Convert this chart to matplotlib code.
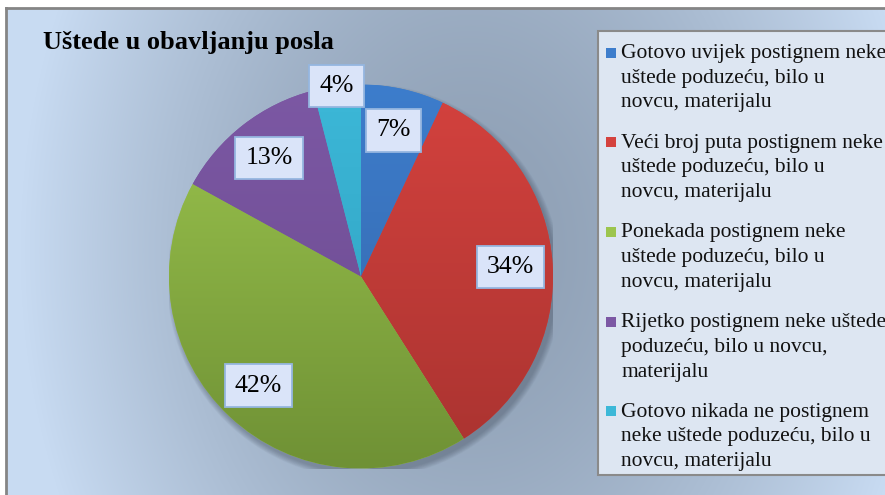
import numpy as np
import matplotlib.pyplot as plt
from matplotlib.patches import Rectangle, Circle
from matplotlib.colors import LinearSegmentedColormap, to_rgb

plt.rcParams['font.family'] = ['Liberation Serif', 'DejaVu Serif']

title = 'Uštede u obavljanju posla'
labels = [
    'Gotovo uvijek postignem neke\nuštede poduzeću, bilo u\nnovcu, materijalu',
    'Veći broj puta postignem neke\nuštede poduzeću, bilo u\nnovcu, materijalu',
    'Ponekada postignem neke\nuštede poduzeću, bilo u\nnovcu, materijalu',
    'Rijetko postignem neke uštede\npoduzeću, bilo u novcu,\nmaterijalu',
    'Gotovo nikada ne postignem\nneke uštede poduzeću, bilo u\nnovcu, materijalu',
]
values = [7, 34, 42, 13, 4]
# (top, bottom) shades for each slice
colors_top = ['#3d7dcc', '#d4423e', '#9cc54e', '#7c58a4', '#3cb8d8']
colors_bot = ['#3465a8', '#a93330', '#6f9135', '#6a4a8e', '#2e9cbc']

W, H = 885, 495
fig = plt.figure(figsize=(W / 100, H / 100), dpi=100)
fig.patch.set_facecolor('white')

# background in pixel coordinates
bg = fig.add_axes([0, 0, 1, 1])
bg.set_xlim(0, W)
bg.set_ylim(H, 0)
bg.axis('off')

xx, yy = np.meshgrid(np.arange(6, W + 5), np.arange(8, H + 5))
d = np.sqrt(((xx - 470) / 450.0) ** 2 + ((yy - 250) / 600.0) ** 2)
t = np.clip(d, 0, 1) ** 1.6
dark = np.array(to_rgb('#8e9fb4'))
light = np.array(to_rgb('#c8dbf2'))
img = dark + (light - dark) * t[..., None]
bg.imshow(img, extent=[6, W + 5, H + 5, 8], aspect='auto', interpolation='bilinear')
bg.plot([6, 6], [8, H + 5], color='#858585', lw=2)
bg.plot([6, W + 5], [8, 8], color='#858585', lw=2)

bg.text(43, 43, title, fontsize=19, fontweight='bold', va='center', ha='left')

# legend
bg.add_patch(Rectangle((598, 30.5), 300, 444, facecolor='#dde6f2',
                       edgecolor='#8a8a8a', lw=1.5))
for k, lab in enumerate(labels):
    base = 58 + 89.7 * k
    bg.add_patch(Rectangle((606, base - 10.5), 10, 10, facecolor=colors_top[k],
                           edgecolor='none'))
    for j, line in enumerate(lab.split('\n')):
        bg.text(621, base + 24.7 * j, line, fontsize=15.5, va='baseline',
                ha='left', color='#111111')

# pie
cx, cy, r = 361, 276.5, 192
ax = fig.add_axes([(cx - r) / W, (H - cy - r) / H, 2 * r / W, 2 * r / H])
ax.set_xlim(-1, 1)
ax.set_ylim(-1, 1)
ax.axis('off')

# soft shadow
for i in range(8):
    ax.add_patch(Circle((0.018, -0.024), 1.0 + 0.004 * i, facecolor='#404a5a',
                        alpha=0.055, edgecolor='none', zorder=0))

wedges, _ = ax.pie(values, startangle=90, counterclock=False, radius=1,
                   wedgeprops=dict(linewidth=0), colors=colors_top)
ax.set_xlim(-1, 1)
ax.set_ylim(-1, 1)

grad = np.linspace(0, 1, 256)[:, None] * np.ones((1, 2))
for w, c1, c2 in zip(wedges, colors_top, colors_bot):
    cmap = LinearSegmentedColormap.from_list('g', [c1, c2])
    im = ax.imshow(grad, extent=[-1, 1, -1, 1], cmap=cmap, aspect='auto',
                   origin='upper', zorder=2, interpolation='bilinear')
    im.set_clip_path(w)

for w, v in zip(wedges, values):
    ang = np.deg2rad((w.theta1 + w.theta2) / 2)
    dist = 0.78 if v >= 5 else 1.0
    ax.text(dist * np.cos(ang), dist * np.sin(ang), '%d%%' % v, fontsize=18.5,
            ha='center', va='center', zorder=5,
            bbox=dict(boxstyle='square,pad=0.4', facecolor='#dae4f9',
                      edgecolor='#95b6e0', lw=1.3))

fig.savefig('out.png', dpi=100)
